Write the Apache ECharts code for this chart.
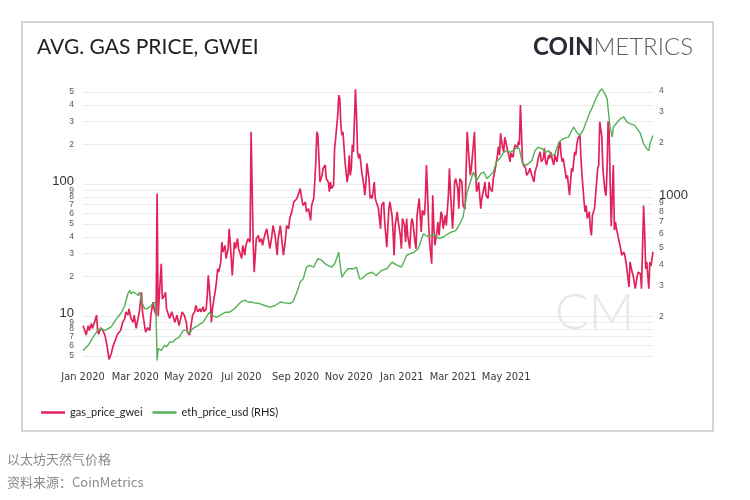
<!DOCTYPE html>
<html><head><meta charset="utf-8">
<script src="https://cdn.jsdelivr.net/npm/echarts@6/dist/echarts.min.js"></script>
<style>html,body{margin:0;padding:0;background:#fff;}#c{width:750px;height:500px;}</style>
</head><body><div id="c"></div>
<script>
// ---- data (days counted from startDate) ----
const startDate = [2020, 0, 1];
const dataEndDay = 546;          // last day of the data axis (2021-06-30)
const labelAxisEndDay = 654.5;   // extent of the printed month axis
const gasDay = [0,1,3,5,6,8,9,11,13,14,15,17,19,21,23,25,27,29,31,33,36,38,40,41,43,44,46,48,49,51,52,54,56,57,59,60,62,64,65,67,68,70,71,72,73,75,76,78,79,80,81,83,85,88,90,92,95,97,99,100,102,104,105,107,108,110,112,113,115,116,118,119,120,122,123,124,125,127,128,129,130,132,133,134,136,137,139,140,141,143,144,145,146,148,149,151,152,153,155,156,158,160,161,163,164,166,168,169,171,172,174,176,177,179,181,182,184,186,187,189,190,192,194,195,197,198,200,202,203,205,206,208,210,211,213,214,216,218,219,221,222,223,224,225,226,227,229,230,232,233,235,236,237,238,240,241,242,244,245,246,247,248,249,251,253,254,255,256,257,258,259,261,262,263,264,265,266,267,269,270,271,272,274,275,276,277,279,280,281,283,285,286,288,289,291,293,294,296,297,298,299,301,302,304,305,306,308,309,310,311,313,314,315,316,318,319,320,322,323,324,325,327,328,329,330,331,332,334,335,336,337,339,340,341,343,344,345,347,348,350,351,352,354,355,356,357,359,360,361,363,364,366,368,370,371,372,373,375,376,377,378,379,380,381,382,384,385,386,388,389,390,392,393,395,397,398,399,400,402,403,404,405,407,408,409,410,412,413,414,416,417,418,419,420,421,422,424,425,427,428,430,432,433,435,436,438,439,441,442,443,444,446,447,448,450,451,452,454,456,457,458,459,460,462,463,464,466,467,468,469,471,472,473,474,476,477,478,480,481,482,483,485,486,487,488,490,491,492,493,494,495,496,497,498,500,501,502,503,504,505,506,508,509,510,511,513,515,516,518,519,521,523,524,526,527,529,531,532,534,535,537,538,539,540,542,543,544,546];
const gasGwei = [8.5,8.1,7.2,8.5,7.8,8.8,8.1,9.0,10.2,7.8,7.3,8.2,7.8,7.2,6.0,4.7,5.2,6.0,6.6,7.3,7.8,9.0,9.6,10.8,10.2,11.4,9.6,9.0,10.2,8.1,9.0,10.8,15.2,10.8,8.5,7.6,8.2,7.8,10.2,12.8,11.4,10.2,85,10,14,25,13.5,14.4,15.2,11.4,10.8,9.6,10.8,9.0,10.2,8.5,10.8,10.2,9.0,7.6,7.2,9.0,10.2,10.8,12.1,10.8,11.4,10.8,11.8,10.8,11.4,14.4,20.4,13,9.0,11.4,12.8,16.2,18.7,22.9,21.6,25.8,36.5,30.7,34.4,27.4,32.5,46,36.5,20.4,27.4,36.5,32.5,38.7,32.5,29,27.4,34.4,29,34.4,38.7,36.5,250,36.5,21.6,38.7,41,36.5,38.7,34.4,41,46,41,32.5,41,48.7,41,29,38.7,48.7,41,29,38.7,48.7,46,54.8,61.8,73.5,71,78,76,92.8,73.5,69,73.5,61.8,65.4,53.3,69,78,104,148,250,235,157,104,117,132,140,110,104,88,104,92.8,98,187,221,333,473,447,280,235,250,148,104,117,166,117,132,199,176,525,333,176,157,170,148,124,98,82.6,104,144,110,78,82.6,78,104,78,73.5,65.4,46,69,73.5,51.8,33.3,65.4,73.5,58.2,43.5,29,48.7,61.8,51.8,41,32.5,55,48.7,36.5,55,41,32.5,46,55,51.8,36.5,32.5,58.2,78,58.2,43.5,63.5,58.2,78,140,88,51.8,36.5,25,82.6,48.7,34.4,43.5,51.8,41,61.8,58.2,46,58.2,48.7,82.6,132,88,46,65.4,104,110,92.8,65.4,110,104,69,65,250,148,117,132,128,250,132,88,92.8,104,82.6,65.4,78,92.8,104,82.6,78,104,92.8,88,110,132,166,193,166,243,187,176,227,210,176,166,148,172,160,187,199,187,210,199,398,250,148,140,132,117,124,132,117,104,124,140,157,176,148,157,187,150,140,166,157,176,148,140,166,148,199,210,166,148,157,124,110,117,82.6,104,132,124,176,166,199,221,235,157,117,73.5,61.8,69,55,61.8,46,41,58.2,65.4,65.4,104,132,140,297,290,230,130,88,82,130,300,250,100,48,140,45,51.8,46,38.7,32.5,29,30.7,29,22.9,16.7,25.8,21.6,20.4,16.2,20.4,21.6,21,16.2,69,43.5,22.9,25.8,16.2,25.8,24,30.7];
const ethDay = [0,5,9,14,17,21,24,27,30,33,37,40,43,45,46,48,51,53,54,56,57,59,61,64,67,69,70,71,72,75,78,80,83,86,89,92,96,99,102,105,110,115,118,121,124,128,131,136,140,145,148,152,155,158,161,164,169,174,179,184,189,193,198,201,205,208,211,214,217,221,225,229,233,238,241,245,246,248,251,254,259,262,265,267,272,277,281,286,291,296,301,305,310,317,321,326,331,336,341,345,352,357,361,364,368,371,374,377,381,384,387,390,393,396,400,403,406,409,412,416,418,419,421,424,427,430,433,436,440,443,446,449,452,456,460,465,470,473,476,479,482,485,488,490,492,495,497,498,500,502,504,505,507,508,512,515,518,521,524,528,531,534,537,540,542,543,546];
const ethUsd = [128,137,150,167,171,167,171,175,186,198,212,232,271,283,271,277,271,265,277,254,238,222,222,227,238,243,203,112,131,128,137,134,143,143,149,152,167,167,160,171,178,186,198,212,203,198,203,212,212,222,232,245,249,243,243,240,238,232,227,232,243,240,238,243,277,316,330,385,394,385,431,421,398,385,402,470,412,338,360,377,377,385,330,330,352,360,345,369,377,412,394,385,450,470,491,598,574,598,563,574,610,625,685,745,1040,1188,1356,1210,1330,1356,1240,1297,1356,1547,1650,1760,1800,1760,1800,1880,1845,1720,1520,1480,1520,1580,1800,1880,1845,1760,1800,1690,1720,2016,2110,2150,2460,2290,2200,2350,2625,2930,3200,3420,3650,3950,4080,4000,3800,3580,2750,2450,2150,2460,2625,2750,2810,2625,2570,2520,2400,2250,1970,1845,1800,1970,2200];
const leftTicks = [5,6,7,8,9,10,20,30,40,50,60,70,80,90,100,200,300,400,500];
const rightTicks = [200,300,400,500,600,700,800,900,1000,2000,3000,4000];
const monthTickDays = [0,60,121,182,244,305,366,425,486]; // Jan 2020 ... May 2021
const monthNames = ['Jan','Feb','Mar','Apr','May','Jun','Jul','Aug','Sep','Oct','Nov','Dec'];

const dayTs = d => new Date(startDate[0], startDate[1], startDate[2]).getTime() + d * 86400000;
const RED = '#e2235b', GREEN = '#55b058';

function leadDigit(v) {
  const p = Math.pow(10, Math.floor(Math.log10(v) + 1e-9));
  return String(Math.round(v / p));
}
function fmtLeft(value) {
  const v = Math.round(value * 1000) / 1000;
  if (Math.abs(v - 10) < 1e-6 || Math.abs(v - 100) < 1e-6) return '{big|' + Math.round(v) + '}';
  return leadDigit(v);
}
function fmtRight(value) {
  const v = Math.round(value * 1000) / 1000;
  if (Math.abs(v - 1000) < 1e-6) return '{big|1000}';
  return leadDigit(v);
}

const chart = echarts.init(document.getElementById('c'), null, {renderer: 'canvas'});
chart.setOption({
  animation: false,
  backgroundColor: '#fff',
  textStyle: {fontFamily: 'Lato'},
  grid: {left: 83, right: 97, top: 88, height: 276},
  legend: {
    left: 36, top: 402, icon: 'rect', itemWidth: 24, itemHeight: 2.5, itemGap: 10,
    textStyle: {fontFamily: 'Lato', fontSize: 11, color: '#222'},
    data: ['gas_price_gwei', 'eth_price_usd (RHS)']
  },
  xAxis: [
    {type: 'time', min: dayTs(0), max: dayTs(dataEndDay),
     axisLine: {show: false}, axisTick: {show: false}, axisLabel: {show: false}, splitLine: {show: false}},
    {type: 'value', min: 0, max: labelAxisEndDay, position: 'bottom',
     axisLine: {show: false}, axisTick: {show: false}, splitLine: {show: false},
     axisLabel: {
       customValues: monthTickDays,
       formatter: v => { const d = new Date(dayTs(v)); return monthNames[d.getMonth()] + ' ' + d.getFullYear(); },
       color: '#3a3a3a', fontFamily: '"Liberation Sans Narrow", "DejaVu Sans Condensed", "Liberation Sans"',
       fontSize: 11, margin: 8
     }}
  ],
  yAxis: [
    {type: 'log', logBase: 10, min: 4.35, max: 536, position: 'left',
     axisLine: {show: false},
     axisTick: {show: false, customValues: leftTicks},
     axisLabel: {customValues: leftTicks, formatter: fmtLeft, color: '#555', fontSize: 8.5, margin: 9,
                 fontFamily: 'Liberation Sans',
                 rich: {big: {fontSize: 13, color: '#333', fontFamily: 'Liberation Sans', padding: [0, 0, 6, 0]}}},
     splitLine: {show: true, lineStyle: {color: '#ececec', width: 1}}},
    {type: 'log', logBase: 10, min: 107, max: 4120, position: 'right',
     axisLine: {show: false},
     axisTick: {show: false, customValues: rightTicks},
     axisLabel: {customValues: rightTicks, formatter: fmtRight, color: '#555', fontSize: 8.5, margin: 6,
                 fontFamily: 'Liberation Sans',
                 rich: {big: {fontSize: 13, color: '#333', fontFamily: 'Liberation Sans'}}},
     splitLine: {show: false}}
  ],
  series: [
    {name: 'gas_price_gwei', type: 'line', xAxisIndex: 0, yAxisIndex: 0, symbol: 'none',
     data: gasDay.map((d, i) => [dayTs(d), gasGwei[i]]),
     lineStyle: {color: RED, width: 1.7}, itemStyle: {color: RED}},
    {name: 'eth_price_usd (RHS)', type: 'line', xAxisIndex: 0, yAxisIndex: 1, symbol: 'none',
     data: ethDay.map((d, i) => [dayTs(d), ethUsd[i]]),
     lineStyle: {color: GREEN, width: 1.4}, itemStyle: {color: GREEN}}
  ],
  graphic: [
    {type: 'rect', z: -10, shape: {x: 22, y: 22, width: 691, height: 409},
     style: {fill: 'none', stroke: '#c6c6c6', lineWidth: 1.5}},
    {type: 'text', x: 37, y: 47, style: {text: 'AVG. GAS PRICE, GWEI', fill: '#222',
     font: '21px Lato', textVerticalAlign: 'middle'}},
    {type: 'text', x: 533, y: 47, style: {text: '{a|COIN}{b|METRICS}', textVerticalAlign: 'middle',
     rich: {a: {fontFamily: 'Lato', fontWeight: 'bold', fontSize: 24, fill: '#2a2a36'},
            b: {fontFamily: 'Lato', fontWeight: 300, fontSize: 24, fill: '#5c5c68'}}}},
    {type: 'text', x: 555, y: 313, z: -5, style: {text: 'CM', fill: '#e6e6ee',
     font: '300 50px Lato', textVerticalAlign: 'middle'}},
    {type: 'text', x: 7, y: 459, style: {text: '以太坊天然气价格', fill: '#8a8a8a',
     font: '13px "Noto Sans CJK SC"', textVerticalAlign: 'middle'}},
    {type: 'text', x: 7, y: 482, style: {text: '资料来源：CoinMetrics', fill: '#8a8a8a',
     font: '13px "Noto Sans CJK SC"', textVerticalAlign: 'middle'}}
  ]
});
</script>
</body></html>
